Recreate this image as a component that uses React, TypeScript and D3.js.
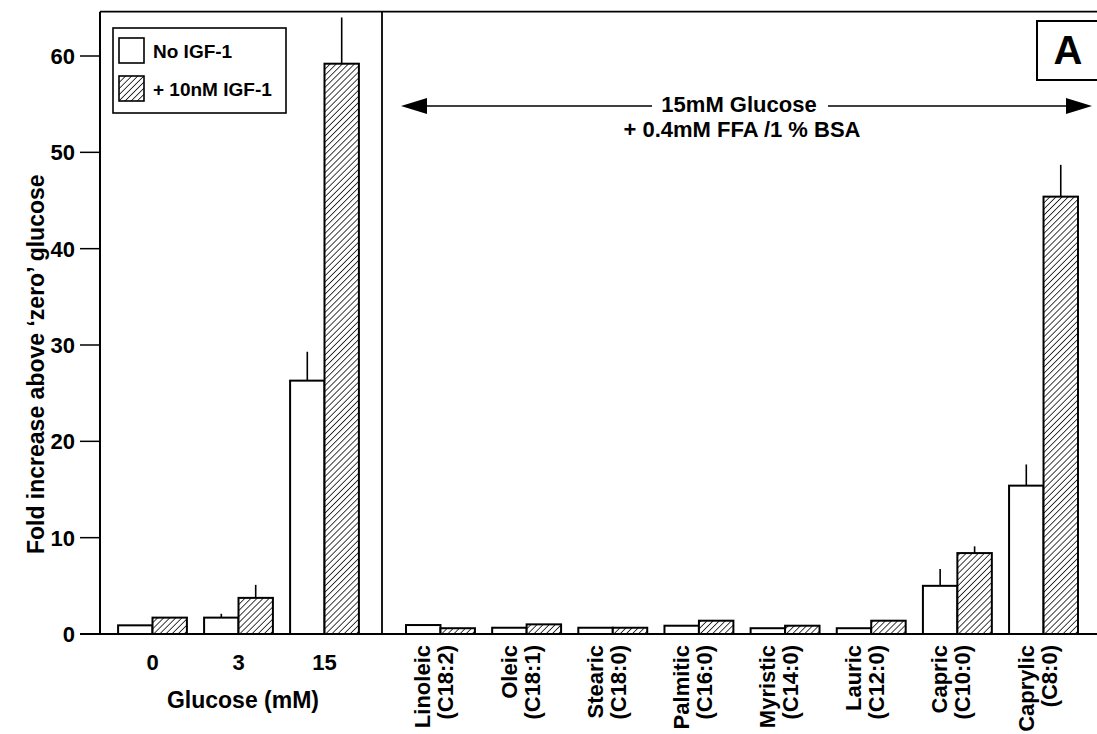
import { useRef, useEffect } from 'react';
import { select, scaleBand, scaleLinear, range } from 'd3';

const glucoseLevels = ['0', '3', '15'];
const glucoseNoIgf = [0.9, 1.7, 26.3];
const glucoseIgf = [1.7, 3.75, 59.2];
const glucoseNoIgfErr = [0, 0.4, 3.0];
const glucoseIgfErr = [0, 1.35, 4.8];

const acidNames = ['Linoleic', 'Oleic', 'Stearic', 'Palmitic', 'Myristic', 'Lauric', 'Capric', 'Caprylic'];
const acidCodes = ['(C18:2)', '(C18:1)', '(C18:0)', '(C16:0)', '(C14:0)', '(C12:0)', '(C10:0)', '(C8:0)'];
const acidNoIgf = [0.93, 0.65, 0.65, 0.86, 0.6, 0.6, 5.0, 15.4];
const acidIgf = [0.6, 1.0, 0.65, 1.38, 0.86, 1.38, 8.4, 45.4];
const acidNoIgfErr = [0, 0, 0, 0, 0, 0, 1.75, 2.2];
const acidIgfErr = [0, 0, 0, 0, 0, 0, 0.7, 3.3];

const yTicks = [0, 10, 20, 30, 40, 50, 60];
const seriesKeys = ['none', 'igf'];
const legendLabels = ['No IGF-1', '+ 10nM IGF-1'];

const FONT = '"Liberation Sans", Arial, Helvetica, sans-serif';

export default function App() {
  const svgRef = useRef(null);

  useEffect(() => {
    const width = 1097;
    const height = 734;
    const svg = select(svgRef.current);
    svg.selectAll('*').remove();
    svg.attr('width', width).attr('height', height);

    const axisX = 100;
    const divider = 382;

    const y = scaleLinear().domain([0, 60]).range([634, 56]);
    const top = y(64.6);

    const defs = svg.append('defs');
    const pat = defs.append('pattern')
      .attr('id', 'hatch')
      .attr('patternUnits', 'userSpaceOnUse')
      .attr('width', 4.3)
      .attr('height', 4.3)
      .attr('patternTransform', 'rotate(45)');
    pat.append('rect').attr('width', 4.3).attr('height', 4.3).attr('fill', '#fff');
    pat.append('line')
      .attr('x1', 0).attr('y1', 0).attr('x2', 0).attr('y2', 4.3)
      .attr('stroke', '#000').attr('stroke-width', 1.5);

    const g = svg.append('g').attr('font-family', FONT).attr('font-weight', 'bold');

    // frame
    g.append('line').attr('x1', axisX).attr('x2', width).attr('y1', top).attr('y2', top)
      .attr('stroke', '#000').attr('stroke-width', 1.8);
    g.append('line').attr('x1', axisX).attr('x2', axisX).attr('y1', top).attr('y2', y(0))
      .attr('stroke', '#000').attr('stroke-width', 2);
    g.append('line').attr('x1', divider).attr('x2', divider).attr('y1', top).attr('y2', y(0))
      .attr('stroke', '#000').attr('stroke-width', 1.8);

    // y ticks
    g.selectAll('.ytick')
      .data(yTicks)
      .join('line')
      .attr('x1', 80).attr('x2', axisX)
      .attr('y1', d => y(d)).attr('y2', d => y(d))
      .attr('stroke', '#000').attr('stroke-width', 1.5);
    g.selectAll('.ylab')
      .data(yTicks)
      .join('text')
      .attr('x', 75)
      .attr('y', d => y(d))
      .attr('dy', '0.36em')
      .attr('text-anchor', 'end')
      .attr('font-size', 22)
      .text(d => d);

    g.append('text')
      .attr('transform', `translate(44,${y(28)}) rotate(-90)`)
      .attr('text-anchor', 'middle')
      .attr('font-size', 23)
      .text('Fold increase above \u2018zero\u2019 glucose');

    // bars
    const drawGroup = (cats, xScale, noIgf, igf, noErr, igfErr) => {
      const sub = scaleBand().domain(seriesKeys).range([0, xScale.bandwidth()]);
      const rows = cats.map((c, i) => ({
        c,
        vals: [
          { k: 'none', v: noIgf[i], e: noErr[i] },
          { k: 'igf', v: igf[i], e: igfErr[i] },
        ],
      }));
      const grp = g.append('g');
      const cell = grp.selectAll('g').data(rows).join('g')
        .attr('transform', d => `translate(${xScale(d.c)},0)`);
      cell.selectAll('line.err')
        .data(d => d.vals.filter(v => v.e > 0))
        .join('line')
        .attr('class', 'err')
        .attr('x1', d => sub(d.k) + sub.bandwidth() / 2)
        .attr('x2', d => sub(d.k) + sub.bandwidth() / 2)
        .attr('y1', d => y(d.v))
        .attr('y2', d => y(d.v + d.e))
        .attr('stroke', '#000').attr('stroke-width', 1.6);
      cell.selectAll('rect')
        .data(d => d.vals)
        .join('rect')
        .attr('x', d => sub(d.k))
        .attr('y', d => y(d.v))
        .attr('width', sub.bandwidth())
        .attr('height', d => y(0) - y(d.v))
        .attr('fill', d => (d.k === 'igf' ? 'url(#hatch)' : '#fff'))
        .attr('stroke', '#000')
        .attr('stroke-width', 2);
    };

    const xLeft = scaleBand().domain(glucoseLevels).range([109.5, 367.5]).paddingInner(0.2).paddingOuter(0.1);
    const xRight = scaleBand().domain(acidNames).range([397.4, 1086.6]).paddingInner(0.2).paddingOuter(0.1);

    drawGroup(glucoseLevels, xLeft, glucoseNoIgf, glucoseIgf, glucoseNoIgfErr, glucoseIgfErr);
    drawGroup(acidNames, xRight, acidNoIgf, acidIgf, acidNoIgfErr, acidIgfErr);

    // x axis line
    g.append('line').attr('x1', 80).attr('x2', width).attr('y1', y(0)).attr('y2', y(0))
      .attr('stroke', '#000').attr('stroke-width', 2);

    // left x labels
    g.selectAll('.xl')
      .data(glucoseLevels)
      .join('text')
      .attr('x', d => xLeft(d) + xLeft.bandwidth() / 2)
      .attr('y', 670)
      .attr('text-anchor', 'middle')
      .attr('font-size', 22)
      .text(d => d);
    g.append('text')
      .attr('x', 243).attr('y', 708)
      .attr('text-anchor', 'middle')
      .attr('font-size', 23)
      .text('Glucose (mM)');

    // right x labels (rotated)
    const acidLab = g.selectAll('.al')
      .data(range(acidNames.length))
      .join('text')
      .attr('transform', i => `translate(${xRight(acidNames[i]) + xRight.bandwidth() / 2},645) rotate(-90)`)
      .attr('text-anchor', 'end')
      .attr('font-size', 22);
    acidLab.append('tspan').attr('x', 0).attr('y', -10).text(i => acidNames[i]);
    acidLab.append('tspan').attr('x', 0).attr('y', 13).text(i => acidCodes[i]);

    // legend
    g.append('rect').attr('x', 113).attr('y', 28).attr('width', 173).attr('height', 85)
      .attr('fill', '#fff').attr('stroke', '#000').attr('stroke-width', 1.6);
    const leg = g.selectAll('.leg')
      .data(seriesKeys)
      .join('g')
      .attr('transform', (_, i) => `translate(119,${38 + i * 38})`);
    leg.append('rect')
      .attr('width', 25).attr('height', 25)
      .attr('fill', d => (d === 'igf' ? 'url(#hatch)' : '#fff'))
      .attr('stroke', '#000').attr('stroke-width', 1.6);
    leg.append('text')
      .attr('x', 34).attr('y', 20)
      .attr('font-size', 19)
      .text((_, i) => legendLabels[i]);

    // panel letter
    g.append('rect').attr('x', 1037).attr('y', 21).attr('width', 70).attr('height', 59)
      .attr('fill', '#fff').attr('stroke', '#000').attr('stroke-width', 2);
    g.append('text').attr('x', 1068).attr('y', 64).attr('text-anchor', 'middle')
      .attr('font-size', 40).text('A');

    // arrow annotation
    const ay = 106;
    g.append('line').attr('x1', 420).attr('x2', 1072).attr('y1', ay).attr('y2', ay)
      .attr('stroke', '#000').attr('stroke-width', 1.6);
    g.append('path').attr('d', `M401,${ay} L427,${ay - 8} L427,${ay + 8} Z`).attr('fill', '#000');
    g.append('path').attr('d', `M1092,${ay} L1066,${ay - 8} L1066,${ay + 8} Z`).attr('fill', '#000');
    g.append('rect').attr('x', 652).attr('y', 92).attr('width', 176).attr('height', 24).attr('fill', '#fff');
    g.append('text').attr('x', 739).attr('y', 112).attr('text-anchor', 'middle')
      .attr('font-size', 22).text('15mM Glucose');
    g.append('text').attr('x', 742).attr('y', 137).attr('text-anchor', 'middle')
      .attr('font-size', 22).text('+ 0.4mM FFA /1 % BSA');
  }, []);

  return (
    <svg
      ref={svgRef}
      style={{ position: 'absolute', left: 0, top: 0, display: 'block', background: '#fff' }}
    ></svg>
  );
}
